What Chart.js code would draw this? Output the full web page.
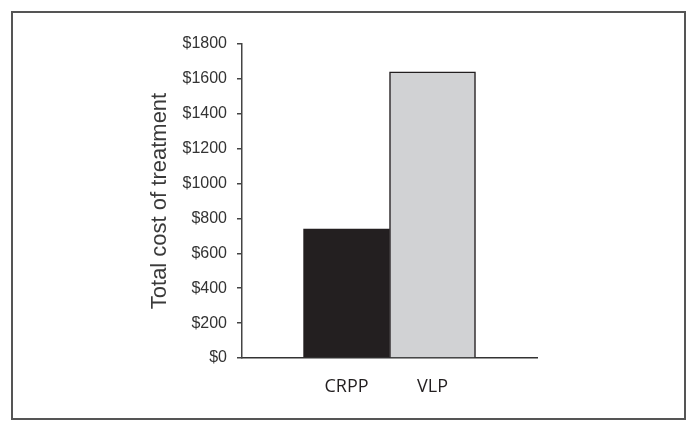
<!DOCTYPE html>
<html>
<head>
<meta charset="utf-8">
<script src="https://cdn.jsdelivr.net/npm/chart.js@4.4.0/dist/chart.umd.min.js"></script>
<style>
  html, body { margin: 0; padding: 0; background: #fff; }
  #wrap { width: 698px; height: 432px; position: relative; }
</style>
</head>
<body>
<div id="wrap"><canvas id="c" width="698" height="432"></canvas></div>
<script>
const categories = ['CRPP', 'VLP'];
const positions = [1, 2];
const costs = [740, 1640];
const yTicks = [0, 200, 400, 600, 800, 1000, 1200, 1400, 1600, 1800];
const barColors = ['#231f20', '#d1d2d4'];

const frame = {
  id: 'frame',
  beforeDraw(chart) {
    const ctx = chart.ctx;
    ctx.save();
    ctx.fillStyle = '#fff';
    ctx.fillRect(0, 0, chart.width, chart.height);
    ctx.strokeStyle = '#555';
    ctx.lineWidth = 2;
    ctx.strokeRect(12, 12, 673, 407);
    ctx.restore();
  }
};

new Chart(document.getElementById('c'), {
  type: 'bar',
  data: {
    datasets: [{
      data: positions.map((x, i) => ({ x: x, y: costs[i] })),
      backgroundColor: barColors,
      borderColor: '#231f20',
      borderWidth: 1.5,
      borderSkipped: 'bottom',
      barPercentage: 1,
      categoryPercentage: 1
    }]
  },
  options: {
    responsive: false,
    animation: false,
    plugins: { legend: { display: false }, tooltip: { enabled: false } },
    layout: { padding: { left: 147, right: 161, top: 44, bottom: 0 } },
    scales: {
      x: {
        type: 'linear',
        offset: false,
        min: -0.215,
        max: 3.215,
        afterBuildTicks(scale) { scale.ticks = positions.map(v => ({ value: v })); },
        afterFit(scale) { scale.height = 74; },
        ticks: {
          callback: (v) => categories[positions.indexOf(v)] || '',
          font: { family: '"Open Sans", sans-serif', size: 18 },
          color: '#231f20',
          padding: 18,
          maxRotation: 0,
          autoSkip: false
        },
        grid: { display: false, drawTicks: false },
        border: { display: true, color: '#333', width: 1.5 }
      },
      y: {
        min: 0,
        max: 1800,
        afterBuildTicks(scale) { scale.ticks = yTicks.map(v => ({ value: v })); },
        afterFit(scale) { scale.width = 95; },
        ticks: {
          callback: (v) => '$' + v,
          font: { family: '"Liberation Sans", Arial, sans-serif', size: 16 },
          color: '#333',
          padding: 10
        },
        grid: { drawOnChartArea: false, drawTicks: true, tickLength: 5, color: '#444', lineWidth: 1.5 },
        border: { display: true, color: '#444', width: 1.5 },
        title: {
          display: true,
          text: 'Total cost of treatment',
          font: { family: '"Liberation Sans", Arial, sans-serif', size: 22 },
          color: '#3a3a3a',
          padding: { top: 0, bottom: 0 }
        }
      }
    }
  },
  plugins: [frame]
});
</script>
</body>
</html>
